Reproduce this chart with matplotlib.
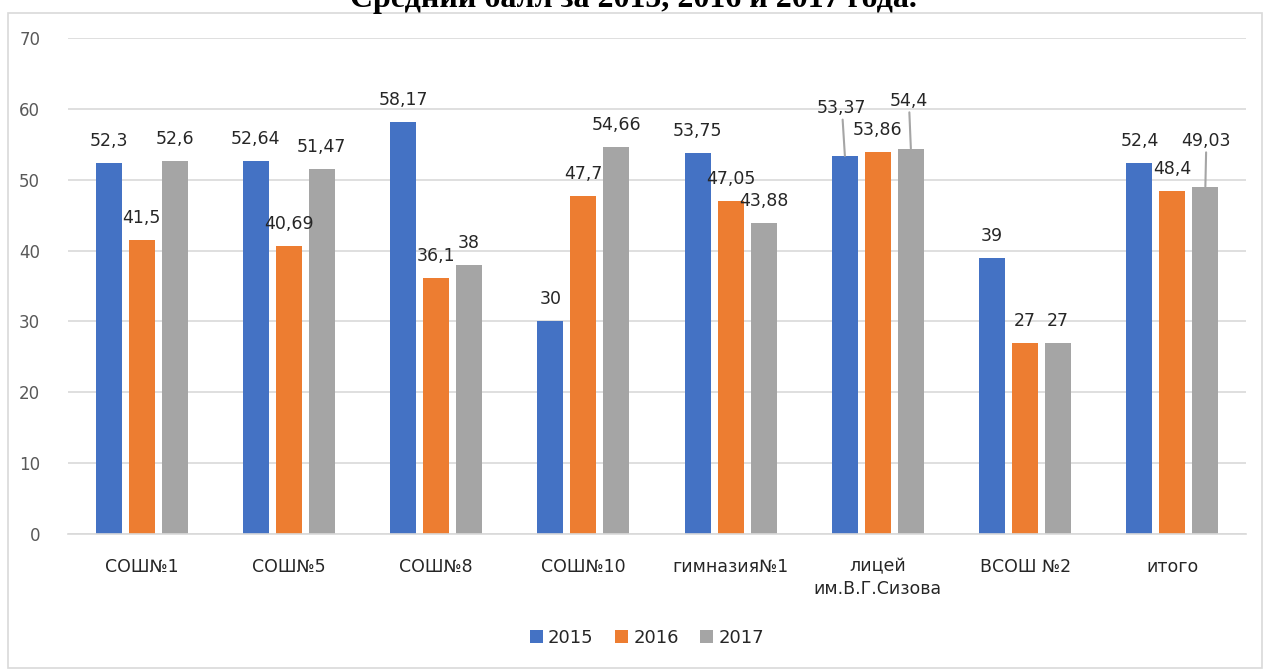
import matplotlib.pyplot as plt
import numpy as np
from matplotlib.patches import Rectangle

categories = ['СОШ№1', 'СОШ№5', 'СОШ№8', 'СОШ№10', 'гимназия№1',
              'лицей\nим.В.Г.Сизова', 'ВСОШ №2', 'итого']
years = ['2015', '2016', '2017']
v2015 = [52.3, 52.64, 58.17, 30, 53.75, 53.37, 39, 52.4]
v2016 = [41.5, 40.69, 36.1, 47.7, 47.05, 53.86, 27, 48.4]
v2017 = [52.6, 51.47, 38, 54.66, 43.88, 54.4, 27, 49.03]
title = 'Средний балл за 2015, 2016 и 2017 года.'

colors = ['#4472C4', '#ED7D31', '#A5A5A5']
# labels that Excel moved up with a leader line: (series, group) -> offset px
moved = {(0, 5): (-3, 48), (2, 5): (-2, 48), (2, 7): (1, 46)}

fig = plt.figure(figsize=(12.69, 6.70), dpi=100)
ax = fig.add_axes([68 / 1269, 1 - 534 / 670, (1246 - 68) / 1269, (534 - 38) / 670])

index = np.arange(len(categories))
bar_width = 0.177
step = 0.224

for s, vals in enumerate([v2015, v2016, v2017]):
    xs = index + (s - 1) * step
    ax.bar(xs, vals, bar_width, color=colors[s], label=years[s], zorder=2)
    for i, (x, v) in enumerate(zip(xs, vals)):
        txt = '{:g}'.format(v).replace('.', ',')
        if (s, i) in moved:
            dx, dy = moved[(s, i)]
            ax.annotate(txt, (x, v), xytext=(dx, dy), textcoords='offset pixels',
                        ha='center', va='center', fontsize=12.5, color='#262626',
                        arrowprops=dict(arrowstyle='-', color='#A5A5A5', lw=1.5,
                                        shrinkA=0, shrinkB=0))
        else:
            ax.annotate(txt, (x, v), xytext=(0, 22), textcoords='offset pixels',
                        ha='center', va='center', fontsize=12.5, color='#262626')

ax.set_ylim(0, 70)
ax.set_xlim(-0.5, len(categories) - 0.5)
ax.set_yticks(np.arange(0, 71, 10))
ax.yaxis.grid(True, color='#D9D9D9', lw=1.2, zorder=0)
ax.set_axisbelow(True)
for side in ['top', 'right', 'left']:
    ax.spines[side].set_visible(False)
ax.spines['bottom'].set_color('#D9D9D9')
ax.spines['bottom'].set_linewidth(1.2)
ax.tick_params(axis='y', length=0, pad=20, labelsize=12, labelcolor='#595959')
ax.tick_params(axis='x', length=0, pad=17, labelsize=12.5, labelcolor='#262626')
ax.set_xticks(index)
ax.set_xticklabels(categories, linespacing=1.3)

fig.legend(loc='center', bbox_to_anchor=(647 / 1269, 1 - 638 / 670), ncol=3,
           frameon=False, fontsize=13, handlelength=0.7, handleheight=0.7,
           handletextpad=0.3, columnspacing=1.2, labelcolor='#262626')

# frame of the chart area
fig.patches.append(Rectangle((8 / 1269, 2 / 670), 1254 / 1269, 655 / 670,
                             transform=fig.transFigure, fill=False,
                             edgecolor='#D9D9D9', lw=1.2))

# title of the document, cut off at the top as in the source screenshot
fig.text(633 / 1269, 1 - 7 / 670, title, ha='center', va='baseline',
         fontsize=23, fontweight='bold', family='Liberation Serif')

plt.savefig('out.png', dpi=100)
